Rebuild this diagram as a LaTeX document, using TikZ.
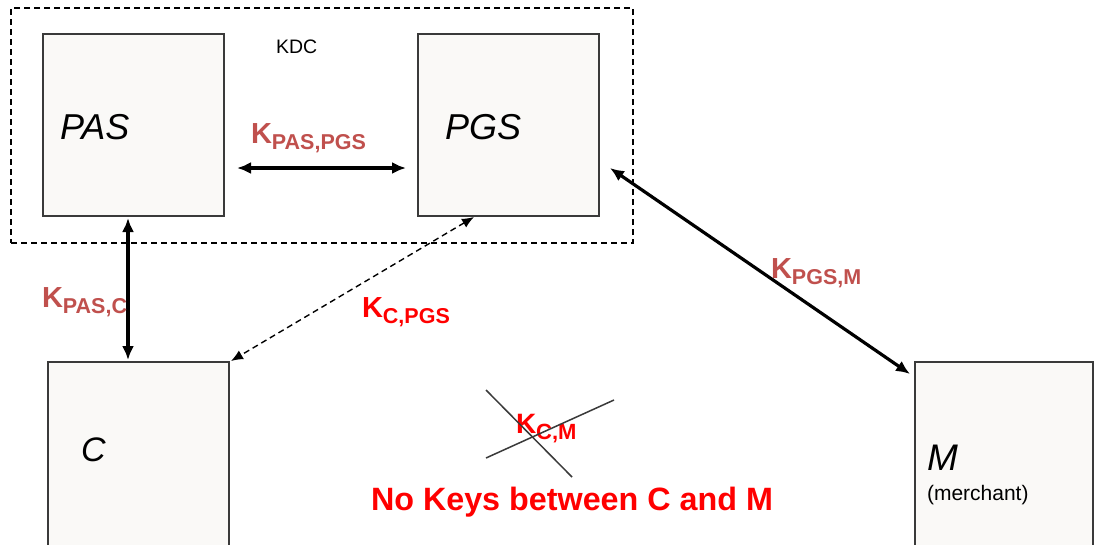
\documentclass[tikz,border=0pt]{standalone}
\usepackage{fontspec}
\setmainfont{Liberation Sans}
\usetikzlibrary{arrows.meta}
\definecolor{keybrown}{HTML}{C0504D}
\definecolor{boxfill}{HTML}{FAF9F7}
\definecolor{boxline}{HTML}{3A3A3A}
\newcommand{\keylab}[3]{{\fontsize{#1}{#1}\selectfont\bfseries K\raisebox{-6pt}{\fontsize{#2}{#2}\selectfont #3}}}
\begin{document}
\begin{tikzpicture}[x=1pt,y=-1pt,
  party/.style={draw=boxline, fill=boxfill, line width=1.6pt, inner sep=0pt, outer sep=0pt},
  txt/.style={anchor=base west, inner sep=0pt, outer sep=0pt},
  biarrow/.style={line width=3.2pt, {Latex[length=14pt,width=12pt]}-{Latex[length=14pt,width=12pt]}},
  dasharrow/.style={line width=1.4pt, dash pattern=on 6pt off 4pt, {Latex[length=12pt,width=10pt]}-{Latex[length=12pt,width=10pt]}},
  crossline/.style={draw=boxline, line width=1.5pt}]
\useasboundingbox (0,0) rectangle (1099,544);
\clip (0,0) rectangle (1099,544);
\fill[white] (0,0) rectangle (1099,544);

% key distribution centre
\node[draw=black, line width=1.4pt, dash pattern=on 6pt off 4pt, inner sep=0pt,
      minimum width=622pt, minimum height=235pt] (KDC) at (322,125.5) {};
\node[txt] (kdclab) at (276,53) {\fontsize{19.5}{19.5}\selectfont KDC};

% parties
\node[party, minimum width=181pt, minimum height=182pt] (PAS) at (133.5,125) {};
\node[party, minimum width=181pt, minimum height=182pt] (PGS) at (508.5,125) {};
\node[party, minimum width=181pt, minimum height=240pt] (C) at (138.5,482) {};
\node[party, minimum width=178pt, minimum height=240pt] (M) at (1004,482) {};

\node[txt] (pastxt) at (60,139) {\fontsize{36}{36}\selectfont\itshape PAS};
\node[txt] (pgstxt) at (445,139) {\fontsize{36}{36}\selectfont\itshape PGS};
\node[txt] (ctxt) at (81,461) {\fontsize{34}{34}\selectfont\itshape C};
\node[txt] (mtxt) at (927,470) {\fontsize{37}{37}\selectfont\itshape M};
\node[txt] (mdesc) at (927,500) {\fontsize{21}{21}\selectfont (merchant)};

% shared keys
\draw[biarrow] ([xshift=13pt,yshift=-43pt]PAS.east) -- ([xshift=-12pt,yshift=-43pt]PGS.west);
\draw[biarrow] ([xshift=-5.5pt,yshift=-2pt]PAS.south) -- ([xshift=-10.5pt,yshift=2pt]C.north);
\draw[dasharrow] ([xshift=-34.5pt,yshift=-1pt]PGS.south) -- ([xshift=2pt,yshift=1pt]C.north east);
\draw[biarrow] ([xshift=11pt,yshift=-43pt]PGS.east) -- ([xshift=-5pt,yshift=-12pt]M.north west);

\node[txt, text=keybrown] (kpaspgs) at (251,143) {\keylab{29}{21.5}{PAS,PGS}};
\node[txt, text=keybrown] (kpasc) at (42,307) {\keylab{29}{21.5}{PAS,C}};
\node[txt, text=red] (kcpgs) at (362,317) {\keylab{29}{21.5}{C,PGS}};
\node[txt, text=keybrown] (kpgsm) at (771,278) {\keylab{29}{21.5}{PGS,M}};

% no key between C and M
\node[txt, text=red] (kcm) at (516,433) {\keylab{28}{22}{C,M}};
\coordinate (x1a) at (486,390);
\coordinate (x1b) at (572,477);
\coordinate (x2a) at (486,458);
\coordinate (x2b) at (614,400);
\draw[crossline] (x1a) -- (x1b);
\draw[crossline] (x2a) -- (x2b);

\node[txt, text=red] (nokeys) at (371,510) {\fontsize{32.3}{32.3}\selectfont\bfseries No Keys between C and M};
\end{tikzpicture}
\end{document}
